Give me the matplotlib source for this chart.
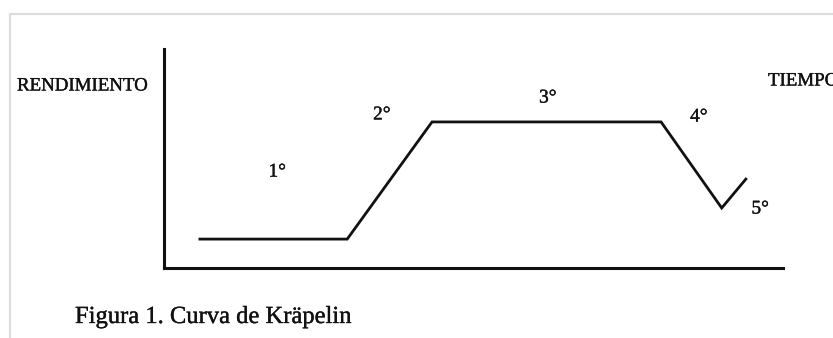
import matplotlib
matplotlib.use("Agg")
import matplotlib.pyplot as plt
import matplotlib.patheffects as pe
from matplotlib.lines import Line2D

plt.rcParams['font.family'] = ['Liberation Serif', 'DejaVu Serif']

# Curva de Kräpelin: tiempo (0-100) vs rendimiento (0-100)
tiempo = [5.8, 29.6, 43.3, 80.3, 90.1, 94.0]
rendimiento = [13.2, 13.2, 66.7, 66.7, 27.4, 40.6]

# etiquetas de las fases
fases = ['1°', '2°', '3°', '4°', '5°']
fase_x = [18.3, 35.2, 62.0, 86.4, 96.3]
fase_y = [43.8, 69.9, 77.6, 68.9, 26.9]

W, H = 833, 338
fig = plt.figure(figsize=(W / 100, H / 100), dpi=100)
ax = fig.add_axes([164 / W, 1 - 268 / H, 619 / W, 219 / H])

ax.plot(tiempo, rendimiento, color='#111111', lw=2.0, solid_joinstyle='miter')
ax.set_xlim(0, 100)
ax.set_ylim(0, 100)
for s in ['top', 'right']:
    ax.spines[s].set_visible(False)
for s in ['left', 'bottom']:
    ax.spines[s].set_linewidth(2.2)
    ax.spines[s].set_color('#111111')
ax.set_xticks([])
ax.set_yticks([])
ax.patch.set_alpha(0)

# trazo leve para imitar el texto escaneado
grueso = [pe.withStroke(linewidth=0.25, foreground='#111111')]

for lab, fx, fy in zip(fases, fase_x, fase_y):
    ax.text(fx, fy, lab, fontsize=14, ha='center', va='center', color='#111111',
            path_effects=grueso)

fig.text(17 / W, 1 - 86 / H, 'RENDIMIENTO', fontsize=13.6, ha='left', va='center',
         color='#111111', path_effects=grueso)
# en la imagen original la palabra queda cortada por el borde derecho
fig.text(768 / W, 1 - 81 / H, 'TIEMPO', fontsize=13.6, ha='left', va='center',
         color='#111111', path_effects=grueso)
fig.text(75 / W, 1 - 323 / H, 'Figura 1. Curva de Kräpelin', fontsize=17.7, ha='left',
         va='baseline', color='#111111', path_effects=grueso)

# marco gris de la imagen
fig.add_artist(Line2D([10 / W, 10 / W, 1], [0, 1 - 14 / H, 1 - 14 / H],
                      transform=fig.transFigure, color='#dddddd', lw=1.6))

fig.savefig('out.png', dpi=100)
